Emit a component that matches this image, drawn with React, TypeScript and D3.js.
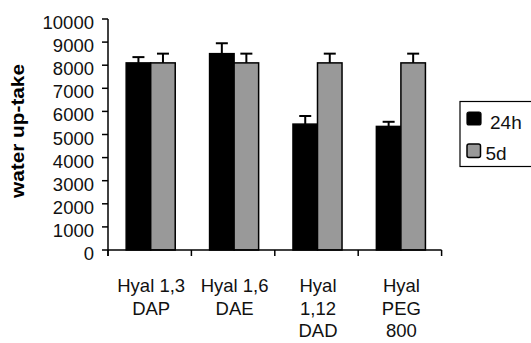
import React from "react";
import * as d3 from "d3";

const categories: string[][] = [
  ["Hyal 1,3", "DAP"],
  ["Hyal 1,6", "DAE"],
  ["Hyal", "1,12", "DAD"],
  ["Hyal", "PEG", "800"],
];
const seriesNames = ["24h", "5d"];
const values24h = [8100, 8500, 5450, 5350];
const errors24h = [250, 450, 350, 200];
const values5d = [8100, 8100, 8100, 8100];
const errors5d = [400, 400, 400, 400];
const yTicks = [0, 1000, 2000, 3000, 4000, 5000, 6000, 7000, 8000, 9000, 10000];
const colors = ["#000000", "#999999"];

const FONT = "Arial, 'Liberation Sans', Helvetica, sans-serif";

export default function App() {
  const W = 531, H = 343;
  const x0 = 108, x1 = 441.6, yTop = 19, yBot = 250;
  const y = d3.scaleLinear().domain([0, 10000]).range([yBot, yTop]);
  const xb = d3.scaleBand<number>().domain(d3.range(categories.length)).range([x0, x1]).padding(0);
  const inner = d3.scaleBand<number>().domain([0, 1]).range([0, xb.bandwidth()]).paddingInner(0).paddingOuter(0.7);
  const series = [
    { vals: values24h, errs: errors24h },
    { vals: values5d, errs: errors5d },
  ];
  const shift = 1;

  return (
    <svg width={W} height={H} style={{ position: "absolute", left: 0, top: 0, background: "#fff" }} fontFamily={FONT}>
      {/* bars */}
      {categories.map((_, i) =>
        series.map((s, k) => {
          const bx = (xb(i) as number) + (inner(k) as number) + shift;
          const bw = inner.bandwidth();
          const top = y(s.vals[i]);
          const cx = bx + bw / 2;
          const et = y(s.vals[i] + s.errs[i]);
          return (
            <g key={`${i}-${k}`}>
              <line x1={cx} x2={cx} y1={top} y2={et} stroke="#000" strokeWidth={2} />
              <line x1={cx - 6} x2={cx + 6} y1={et} y2={et} stroke="#000" strokeWidth={2} />
              <rect x={bx} y={top} width={bw} height={yBot - top} fill={colors[k]} stroke="#000" strokeWidth={1.5} />
            </g>
          );
        })
      )}
      {/* y axis */}
      <line x1={x0} x2={x0} y1={yTop} y2={yBot + 6} stroke="#000" strokeWidth={1.5} />
      {yTicks.map((t) => (
        <g key={t}>
          <line x1={x0 - 6} x2={x0} y1={y(t)} y2={y(t)} stroke="#000" strokeWidth={1.5} />
          <text x={94} y={y(t) + 10} textAnchor="end" fontSize={18.5} fill="#111">
            {t}
          </text>
        </g>
      ))}
      {/* x axis */}
      <line x1={x0} x2={x1} y1={yBot} y2={yBot} stroke="#000" strokeWidth={1.5} />
      {d3.range(categories.length + 1).map((i) => {
        const tx = i < categories.length ? (xb(i) as number) : x1;
        return <line key={i} x1={tx} x2={tx} y1={yBot} y2={yBot + 6} stroke="#000" strokeWidth={1.5} />;
      })}
      {categories.map((lines, i) => (
        <text key={i} textAnchor="middle" fontSize={18.5} fill="#111">
          {lines.map((l, j) => (
            <tspan key={j} x={(xb(i) as number) + xb.bandwidth() / 2 + 1.5} y={292 + j * 22.5}>
              {l}
            </tspan>
          ))}
        </text>
      ))}
      {/* y label */}
      <text
        transform="translate(24,131) rotate(-90)"
        textAnchor="middle"
        fontSize={18}
        fontWeight="bold"
        fill="#000"
        textLength={134}
        lengthAdjust="spacingAndGlyphs"
      >
        water up-take
      </text>
      {/* legend */}
      <rect x={460} y={101.5} width={80} height={65} fill="#fff" stroke="#000" strokeWidth={1.2} />
      <rect x={467} y={112} width={14} height={13} rx={2} fill={colors[0]} stroke="#000" strokeWidth={1.2} />
      <text x={490} y={128.5} fontSize={19} fill="#111">{seriesNames[0]}</text>
      <rect x={467} y={144} width={13.5} height={13.5} rx={2} fill={colors[1]} stroke="#000" strokeWidth={1.5} />
      <text x={485.5} y={159.5} fontSize={19} fill="#111">{seriesNames[1]}</text>
    </svg>
  );
}
